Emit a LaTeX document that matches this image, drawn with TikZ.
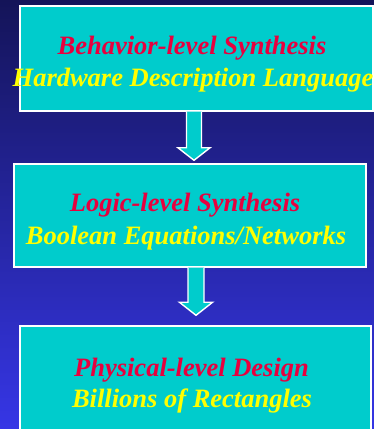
\documentclass[tikz,border=0pt]{standalone}
\usepackage{fontspec}
\setmainfont{Liberation Serif}
\usepackage{tikz}
\usetikzlibrary{calc}

\definecolor{bgtop}{HTML}{141458}
\definecolor{bgbot}{HTML}{3636E6}
\definecolor{boxcyan}{HTML}{00CCCC}
\definecolor{titlered}{HTML}{E8003E}
\definecolor{subyellow}{HTML}{FFFF00}

\begin{document}
\begin{tikzpicture}[x=1pt, y=1pt,
    stage/.style={draw=white, line width=1.4pt, fill=boxcyan, inner sep=0pt},
    flowarrow/.style={draw=white, line width=1.4pt, fill=boxcyan, line join=miter},
    every node/.style={font=\fontsize{26.5}{32}\selectfont\bfseries\itshape}]
    % page and background
    \useasboundingbox (0,0) rectangle (374,429);
    \clip (0,0) rectangle (374,429);
    \shade[top color=bgtop, bottom color=bgbot] (0,0) rectangle (374,429);

    % the three stages
    \node[stage, minimum width=353, minimum height=105] (beh) at (196.5,370.5) {};
    \node[stage, minimum width=352, minimum height=103] (log) at (190,213.5) {};
    \node[stage, minimum width=351, minimum height=114] (phy) at (195.5,46) {};

    % arrows between the stages
    \coordinate (a1top) at ($(beh.south)+(-2.5,0)$);
    \coordinate (a1tip) at ($(log.north)+(4,3)$);
    \coordinate (a1base) at ($(a1tip)+(0,12.5)$);
    \draw[flowarrow] ($(a1top)+(-7.5,0)$) -- ($(a1base)+(-7.5,0)$) -- ($(a1base)+(-16,0)$)
        -- (a1tip) -- ($(a1base)+(16,0)$) -- ($(a1base)+(7.5,0)$) -- ($(a1top)+(7.5,0)$);

    \coordinate (a2top) at ($(log.south)+(6,0)$);
    \coordinate (a2tip) at ($(phy.north)+(0.5,10)$);
    \coordinate (a2base) at ($(a2tip)+(0,13)$);
    \draw[flowarrow] ($(a2top)+(-8,0)$) -- ($(a2base)+(-8,0)$) -- ($(a2base)+(-16.5,0)$)
        -- (a2tip) -- ($(a2base)+(16.5,0)$) -- ($(a2base)+(8,0)$) -- ($(a2top)+(8,0)$);

    % labels
    \node[anchor=base, text=titlered] (beh-title) at (192,374) {Behavior-level Synthesis};
    \node[anchor=base, text=subyellow] (beh-sub) at (193,342) {Hardware Description Language};
    \node[anchor=base, text=titlered] (log-title) at (185,217.5) {Logic-level Synthesis};
    \node[anchor=base, text=subyellow] (log-sub) at (186,184) {Boolean Equations/Networks};
    \node[anchor=base, text=titlered] (phy-title) at (191.5,52.3) {Physical-level Design};
    \node[anchor=base, text=subyellow] (phy-sub) at (192,21) {Billions of Rectangles};
\end{tikzpicture}
\end{document}
